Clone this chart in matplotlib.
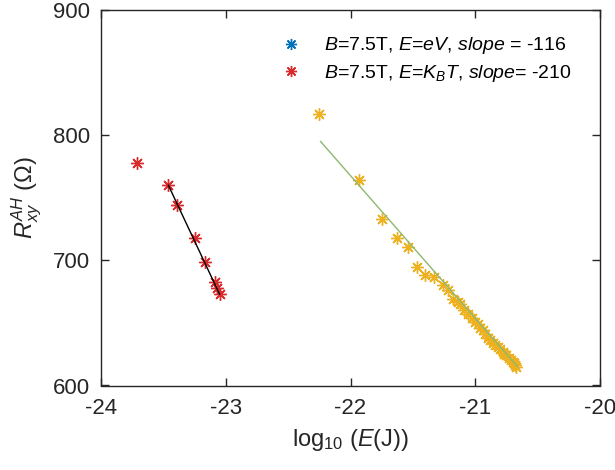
import matplotlib.pyplot as plt
from matplotlib.lines import Line2D

plt.rcParams['font.family'] = ['Liberation Sans', 'DejaVu Sans']
plt.rcParams['mathtext.fontset'] = 'custom'
plt.rcParams['mathtext.rm'] = 'Liberation Sans'
plt.rcParams['mathtext.it'] = 'Liberation Sans:italic'
plt.rcParams['axes.unicode_minus'] = False

# E = kB*T data (red) and its linear fit
kbt_logE = [-23.71, -23.46, -23.39, -23.25, -23.17, -23.09, -23.07, -23.05]
kbt_R = [778, 760, 744, 718, 699, 683, 678, 673]
kbt_fit_x = [-23.46, -23.05]
kbt_fit_y = [760, 673]

# E = eV data (yellow) and its linear fit
ev_logE = [-22.25, -21.93, -21.75, -21.63, -21.54, -21.47, -21.40, -21.33,
           -21.26, -21.22, -21.18, -21.14, -21.12, -21.09, -21.06, -21.03,
           -21.00, -20.98, -20.96, -20.94, -20.92, -20.90, -20.88, -20.86,
           -20.84, -20.82, -20.80, -20.78, -20.77, -20.75, -20.73, -20.71,
           -20.70, -20.69, -20.68, -20.67]
ev_R = [817, 764, 733, 718, 711, 695, 688, 687,
        680, 676, 669, 667, 665, 660, 657, 654,
        651, 649, 646, 644, 641, 638, 636, 634,
        632, 631, 629, 627, 625, 624, 622, 620,
        619, 618, 616, 615]
ev_fit_x = [-22.24, -20.66]
ev_fit_y = [795, 615]

RED = '#D92B2B'
YELLOW = '#EDB120'
BLUE = '#0072BD'
GREEN = '#8DB870'
TXT = '#262626'
AST = (8, 2, 0)

fig = plt.figure(figsize=(6.15, 4.70), dpi=100)
ax = fig.add_axes([101 / 615, 84.5 / 470, 499 / 615, 375.5 / 470])

ax.plot(ev_logE, ev_R, linestyle='none', marker=AST, markersize=9,
        markeredgewidth=1.0, color=YELLOW)
ax.plot(ev_fit_x, ev_fit_y, color=GREEN, linewidth=1.0)
ax.plot(kbt_logE, kbt_R, linestyle='none', marker=AST, markersize=9,
        markeredgewidth=1.0, color=RED)
ax.plot(kbt_fit_x, kbt_fit_y, color='black', linewidth=1.0)

ax.set_xlim(-24, -20)
ax.set_ylim(600, 900)
ax.set_xticks([-24, -23, -22, -21, -20])
ax.set_yticks([600, 700, 800, 900])
ax.tick_params(direction='in', top=True, right=True, length=6, width=1,
               labelsize=16, colors=TXT)
ax.tick_params(axis='x', pad=9)
ax.tick_params(axis='y', pad=8)
for s in ax.spines.values():
    s.set_linewidth(1.0)
    s.set_color(TXT)

ax.set_xlabel(r'log$_{10}$ ($E$(J))', fontsize=17, color=TXT, labelpad=6)
ax.set_ylabel(r'$R_{xy}^{AH}$ ($\Omega$)', fontsize=17, color=TXT,
              labelpad=6)

handles = [Line2D([], [], linestyle='none', marker=AST, markersize=8,
                  markeredgewidth=1.0, color=BLUE),
           Line2D([], [], linestyle='none', marker=AST, markersize=8,
                  markeredgewidth=1.0, color=RED)]
labels = ['$B$=7.5T, $E$=$eV$, $slope$ = $\\mathit{\u2010116}$',
          '$B$=7.5T, $E$=$K_BT$, $slope$= $\\mathit{\u2010210}$']
ax.legend(handles, labels, loc='upper left', frameon=False,
          prop={'size': 14},
          handletextpad=0.7, labelspacing=0.35, borderaxespad=0,
          bbox_to_anchor=(163 / 499, 0.953))

fig.savefig('out.png', dpi=100)
